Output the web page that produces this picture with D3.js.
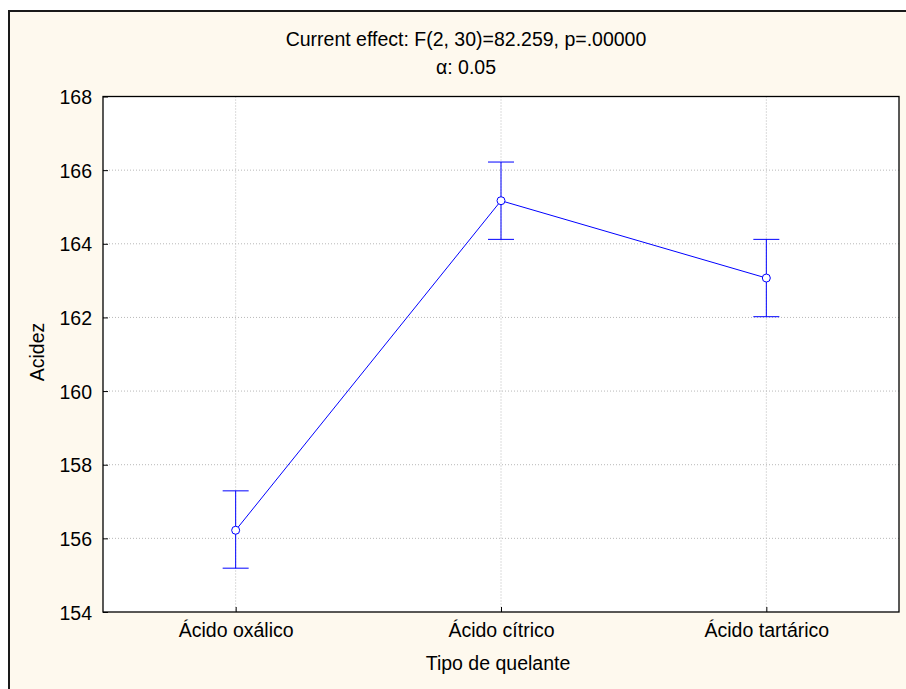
<!DOCTYPE html>
<html>
<head>
<meta charset="utf-8">
<script src="https://cdn.jsdelivr.net/npm/d3@7/dist/d3.min.js"></script>
<style>
  html, body { margin: 0; padding: 0; background: #ffffff; }
  svg { display: block; font-family: "Liberation Sans", Arial, sans-serif; }
</style>
</head>
<body>
<svg id="chart" width="906" height="689"></svg>
<script>
// Group means of acidity with 95% confidence limits
const categories = ["Ácido oxálico", "Ácido cítrico", "Ácido tartárico"];
const means = [156.22, 165.17, 163.07];
const upperCI = [157.29, 166.22, 164.12];
const lowerCI = [155.19, 164.12, 162.02];
const yTicks = [154, 156, 158, 160, 162, 164, 166, 168];
const titleLines = ["Current effect: F(2, 30)=82.259, p=.00000", "α: 0.05"];
const xTitle = "Tipo de quelante";
const yTitle = "Acidez";

const FS = 19.5;
const svg = d3.select("#chart");
const W = 906, H = 689;
const margin = { left: 103, right: 7, top: 96.5, bottom: 77 };
const plotW = W - margin.left - margin.right;
const plotH = H - margin.top - margin.bottom;

// outer panel
svg.append("rect").attr("x", 0).attr("y", 0).attr("width", W).attr("height", H).attr("fill", "#ffffff");
svg.append("rect").attr("x", 9).attr("y", 11).attr("width", W + 10).attr("height", H + 10)
  .attr("fill", "#fef9ee").attr("stroke", "#1a1a1a").attr("stroke-width", 2);

const x = d3.scalePoint().domain(categories).range([0, plotW]).padding(0.5);
const y = d3.scaleLinear().domain([154, 168]).range([plotH, 0]);

const g = svg.append("g").attr("transform", `translate(${margin.left},${margin.top})`);

g.append("rect").attr("width", plotW).attr("height", plotH).attr("fill", "#ffffff");

// dotted grid
g.selectAll(".hgrid").data(yTicks.slice(1, -1)).join("line")
  .attr("x1", 0).attr("x2", plotW)
  .attr("y1", d => y(d)).attr("y2", d => y(d))
  .attr("stroke", "#b8b8b8").attr("stroke-width", 1).attr("stroke-dasharray", "1,2");
g.selectAll(".vgrid").data(categories).join("line")
  .attr("x1", d => x(d)).attr("x2", d => x(d))
  .attr("y1", 0).attr("y2", plotH)
  .attr("stroke", "#b8b8b8").attr("stroke-width", 1).attr("stroke-dasharray", "1,2");

// axes
const yAxis = g.append("g").call(d3.axisLeft(y).tickValues(yTicks).tickSize(5).tickPadding(6).tickFormat(d3.format("d")));
const xAxis = g.append("g").attr("transform", `translate(0,${plotH})`)
  .call(d3.axisBottom(x).tickSize(5).tickPadding(6));
[yAxis, xAxis].forEach(a => {
  a.select(".domain").remove();
  a.selectAll("line").attr("stroke", "#000");
  a.selectAll("text").attr("font-size", FS).attr("fill", "#000")
    .attr("font-family", "Liberation Sans, Arial, sans-serif");
});
xAxis.selectAll(".tick line").attr("y2", -5);
yAxis.selectAll(".tick line").attr("x2", 5);
yAxis.selectAll("text").attr("dy", "0.36em");

// plot frame
g.append("rect").attr("width", plotW).attr("height", plotH)
  .attr("fill", "none").attr("stroke", "#000").attr("stroke-width", 1.3);

// error bars
const blue = "#0000ff";
const cap = 13;
const eb = g.selectAll(".eb").data(categories).join("g");
eb.append("line").attr("x1", d => x(d)).attr("x2", d => x(d))
  .attr("y1", (d, i) => y(upperCI[i])).attr("y2", (d, i) => y(lowerCI[i]))
  .attr("stroke", blue).attr("stroke-width", 1);
eb.append("line").attr("x1", d => x(d) - cap).attr("x2", d => x(d) + cap)
  .attr("y1", (d, i) => y(upperCI[i])).attr("y2", (d, i) => y(upperCI[i]))
  .attr("stroke", blue).attr("stroke-width", 1);
eb.append("line").attr("x1", d => x(d) - cap).attr("x2", d => x(d) + cap)
  .attr("y1", (d, i) => y(lowerCI[i])).attr("y2", (d, i) => y(lowerCI[i]))
  .attr("stroke", blue).attr("stroke-width", 1);

// mean line and markers
g.append("path").datum(means)
  .attr("d", d3.line().x((d, i) => x(categories[i])).y(d => y(d)))
  .attr("fill", "none").attr("stroke", blue).attr("stroke-width", 1);
g.selectAll(".pt").data(means).join("circle")
  .attr("cx", (d, i) => x(categories[i])).attr("cy", d => y(d)).attr("r", 4)
  .attr("fill", "#ffffff").attr("stroke", blue).attr("stroke-width", 1);

// titles
svg.selectAll(".title").data(titleLines).join("text")
  .attr("x", 466).attr("y", (d, i) => 46 + i * 28)
  .attr("text-anchor", "middle").attr("font-size", FS).attr("fill", "#000")
  .text(d => d);
svg.append("text").attr("x", margin.left + plotW / 2 - 3).attr("y", 670)
  .attr("text-anchor", "middle").attr("font-size", FS).attr("fill", "#000").text(xTitle);
svg.append("text").attr("transform", `translate(44,352) rotate(-90)`)
  .attr("text-anchor", "middle").attr("font-size", FS).attr("fill", "#000").text(yTitle);
</script>
</body>
</html>
